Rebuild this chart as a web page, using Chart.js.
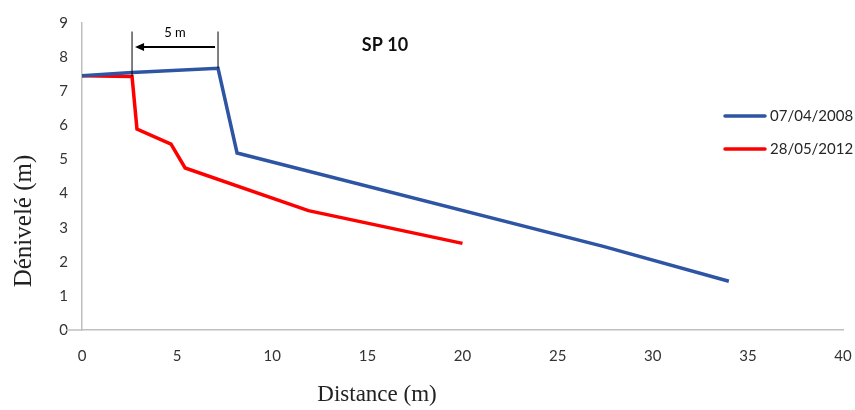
<!DOCTYPE html>
<html><head><meta charset="utf-8">
<script src="https://cdn.jsdelivr.net/npm/chart.js@4/dist/chart.umd.min.js"></script>
<style>html,body{margin:0;padding:0;background:#fff}#wrap{width:855px;height:410px}</style>
</head><body><div id="wrap"><canvas id="c" width="855" height="410"></canvas></div>
<script>
const seriesNames = ['07/04/2008', '28/05/2012'];
const dist2008 = [0, 2.63, 7.15, 8.15, 27.4, 34.0];
const elev2008 = [7.45, 7.55, 7.67, 5.19, 2.45, 1.43];
const dist2012 = [0, 2.63, 2.89, 4.68, 5.42, 11.9, 20.0];
const elev2012 = [7.45, 7.43, 5.89, 5.45, 4.75, 3.5, 2.54];
const xTicks = [0, 5, 10, 15, 20, 25, 30, 35, 40];
const yTicks = [0, 1, 2, 3, 4, 5, 6, 7, 8, 9];
const chartTitle = 'SP 10';
const xTitle = 'Distance (m)';
const yTitle = 'Dénivelé (m)';
const retreatLabel = '5 m';
const retreatFrom = 7.15, retreatTo = 2.63; // distances marking the 5 m retreat

const colors = ['#2E54A4', '#FF0000'];
const toPts = (xs, ys) => xs.map((x, i) => ({x: x, y: ys[i]}));

const overlay = {
  id: 'overlay',
  afterDraw(chart) {
    const ctx = chart.ctx, xs = chart.scales.x, ys = chart.scales.y, a = chart.chartArea;
    ctx.save();
    ctx.strokeStyle = '#bfbfbf'; ctx.lineWidth = 1.5;
    ctx.beginPath(); ctx.moveTo(a.left - 16, ys.getPixelForValue(0)); ctx.lineTo(a.left, ys.getPixelForValue(0)); ctx.stroke();
    const topY = ys.getPixelForValue(8.75);
    const arrY = ys.getPixelForValue(8.3);
    const x1 = xs.getPixelForValue(retreatTo), x2 = xs.getPixelForValue(retreatFrom);
    ctx.strokeStyle = '#000'; ctx.lineWidth = 1;
    ctx.beginPath();
    ctx.moveTo(x1, topY); ctx.lineTo(x1, ys.getPixelForValue(7.43));
    ctx.moveTo(x2, topY); ctx.lineTo(x2, ys.getPixelForValue(7.67));
    ctx.stroke();
    ctx.lineWidth = 2;
    ctx.beginPath(); ctx.moveTo(x2 - 3, arrY); ctx.lineTo(x1 + 10, arrY); ctx.stroke();
    ctx.fillStyle = '#000';
    ctx.beginPath(); ctx.moveTo(x1 + 3, arrY); ctx.lineTo(x1 + 12, arrY - 4); ctx.lineTo(x1 + 12, arrY + 4); ctx.closePath(); ctx.fill();
    ctx.font = '13px Lato'; ctx.textAlign = 'center'; ctx.textBaseline = 'middle';
    ctx.fillText(retreatLabel, (x1 + x2) / 2, arrY - 14);
    ctx.font = 'bold 18px Lato'; ctx.fillStyle = '#111';
    ctx.fillText(chartTitle, 385, 45);
    ctx.font = '23px "Liberation Serif"'; ctx.fillStyle = '#222';
    ctx.fillText(xTitle, 377, 395);
    ctx.font = '25px "Liberation Serif"';
    ctx.save(); ctx.translate(24, 221); ctx.rotate(-Math.PI / 2); ctx.fillText(yTitle, 0, 0); ctx.restore();
    ctx.font = '15px Lato'; ctx.textAlign = 'left'; ctx.fillStyle = '#262626';
    chart.data.datasets.forEach((d, i) => {
      const y = 116 + i * 33;
      ctx.strokeStyle = d.borderColor; ctx.lineWidth = 3.5; ctx.lineCap = 'round';
      ctx.beginPath(); ctx.moveTo(725, y); ctx.lineTo(765, y); ctx.stroke();
      ctx.fillText(d.label, 770, y);
    });
    ctx.restore();
  }
};

new Chart(document.getElementById('c'), {
  type: 'scatter',
  data: {
    datasets: [
      {label: seriesNames[0], data: toPts(dist2008, elev2008), showLine: true, borderColor: colors[0], backgroundColor: colors[0], borderWidth: 3.5, pointRadius: 0, tension: 0},
      {label: seriesNames[1], data: toPts(dist2012, elev2012), showLine: true, borderColor: colors[1], backgroundColor: colors[1], borderWidth: 3.5, pointRadius: 0, tension: 0}
    ]
  },
  options: {
    responsive: false, animation: false,
    layout: {padding: {top: 20, right: 0, left: 0, bottom: 0}},
    plugins: {legend: {display: false}, tooltip: {enabled: false}},
    scales: {
      x: {
        type: 'linear', min: 0, max: 40,
        afterBuildTicks: s => { s.ticks = xTicks.map(v => ({value: v})); },
        afterFit: s => { s.height = 80; s.paddingRight = 12; },
        grid: {color: 'transparent', drawTicks: false},
        border: {display: true, color: '#bfbfbf', width: 1.5},
        ticks: {padding: 17, color: '#333', font: {family: 'Lato', size: 15}, maxRotation: 0}
      },
      y: {
        type: 'linear', min: 0, max: 9,
        afterBuildTicks: s => { s.ticks = yTicks.map(v => ({value: v})); },
        afterFit: s => { s.width = 82; },
        grid: {color: 'transparent', drawTicks: false},
        border: {display: true, color: '#bfbfbf', width: 1.5},
        ticks: {padding: 14, color: '#333', font: {family: 'Lato', size: 15}}
      }
    }
  },
  plugins: [overlay]
});
</script></body></html>
